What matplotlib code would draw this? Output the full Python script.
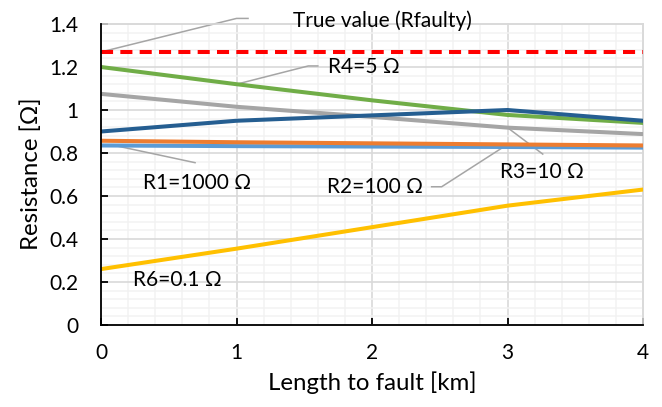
import matplotlib as mpl
mpl.use("Agg")
import matplotlib.pyplot as plt
import numpy as np
from matplotlib.ticker import MultipleLocator

plt.rcParams['font.family'] = ['Lato', 'DejaVu Sans']

# data
length_km = [0, 1, 2, 3, 4]
r1_1000 = [0.835, 0.832, 0.830, 0.828, 0.825]
r2_100 = [0.857, 0.850, 0.845, 0.840, 0.835]
r3_10 = [1.075, 1.015, 0.968, 0.918, 0.888]
r4_5 = [1.200, 1.120, 1.045, 0.977, 0.940]
r5_1 = [0.900, 0.950, 0.975, 1.000, 0.950]
r6_01 = [0.260, 0.355, 0.455, 0.555, 0.630]
r_faulty = [1.27, 1.27, 1.27, 1.27, 1.27]

y_ticks = [0, 0.2, 0.4, 0.6, 0.8, 1, 1.2, 1.4]
x_ticks = [0, 1, 2, 3, 4]

c_r1 = '#5B9BD5'
c_r2 = '#ED7D31'
c_r3 = '#A5A5A5'
c_r4 = '#70AD47'
c_r5 = '#255E91'
c_r6 = '#FFC000'
c_lead = '#A5A5A5'

fig = plt.figure(figsize=(6.62, 4.07), dpi=100)
ax = fig.add_axes([0.1526, 0.2015, 0.8187, 0.7395])

lw = 2.9
ax.plot(length_km, r6_01, color=c_r6, lw=lw, zorder=3)
ax.plot(length_km, r1_1000, color=c_r1, lw=lw, zorder=3)
ax.plot(length_km, r2_100, color=c_r2, lw=lw, zorder=3)
ax.plot(length_km, r3_10, color=c_r3, lw=lw, zorder=3)
ax.plot(length_km, r4_5, color=c_r4, lw=lw, zorder=3)
ax.plot(length_km, r5_1, color=c_r5, lw=lw, zorder=3)
ax.plot(length_km, r_faulty, color='#FF0000', lw=lw, dashes=(3, 1.8), zorder=3)

ax.set_xlim(0, 4)
ax.set_ylim(0, 1.4)
ax.set_xticks(x_ticks)
ax.set_yticks(y_ticks)
ax.yaxis.set_major_formatter(mpl.ticker.FuncFormatter(lambda v, p: ('%.1f' % v).rstrip('0').rstrip('.') if v else '0'))
ax.xaxis.set_minor_locator(MultipleLocator(0.2))
ax.yaxis.set_minor_locator(MultipleLocator(0.04))
ax.grid(which='minor', color='#F2F2F2', lw=1.1, zorder=0)
ax.grid(which='major', color='#D9D9D9', lw=1.2, zorder=1)
ax.set_axisbelow(True)
for gl in ax.get_xgridlines() + ax.get_ygridlines():
    gl.set_clip_on(False)

# top and right edges of the plot area are light grey like the grid
for s in ['top', 'right']:
    ax.spines[s].set_color('#D9D9D9')
    ax.spines[s].set_linewidth(1.2)
for s in ['left', 'bottom']:
    ax.spines[s].set_linewidth(1.3)
    ax.spines[s].set_color('black')
    ax.spines[s].set_zorder(4)

ax.tick_params(which='major', direction='in', length=5, width=1.3, labelsize=15, colors='black')
ax.tick_params(axis='y', pad=16)
ax.tick_params(axis='x', pad=13)
ax.tick_params(which='minor', length=0)
ax.tick_params(top=False, right=False)

fig.text(0.562, 0.059, 'Length to fault [km]', ha='center', va='center', fontsize=17.3)
fig.text(0.047, 0.572, 'Resistance [\u03a9]', ha='center', va='center', rotation=90, fontsize=17.3)

# leader lines and labels
lead = dict(color=c_lead, lw=1.1, clip_on=False, zorder=2)
txt = dict(fontsize=15, va='center', ha='left', clip_on=False)

ax.plot([length_km[0], 1.0, 1.085], [r_faulty[0], 1.426, 1.426], **lead)
ax.text(1.42, 1.415, 'True value (Rfaulty)', **txt)

ax.plot([length_km[1], 1.53, 1.60], [r4_5[1], 1.205, 1.205], **lead)
ax.text(1.675, 1.20, 'R4=5 \u03a9', **txt)

ax.plot([0.10, 0.694], [r1_1000[0], 0.755], **lead)
ax.text(0.31, 0.66, 'R1=1000 \u03a9', **txt)

ax.plot([length_km[3], 2.514, 2.44], [r2_100[3], 0.643, 0.643], **lead)
ax.text(1.668, 0.642, 'R2=100 \u03a9', **txt)

ax.plot([length_km[3], 3.26], [r3_10[3], 0.795], **lead)
ax.text(2.945, 0.712, 'R3=10 \u03a9', **txt)

ax.text(0.236, 0.21, 'R6=0.1 \u03a9', **txt)

plt.savefig('out.png', dpi=100)
